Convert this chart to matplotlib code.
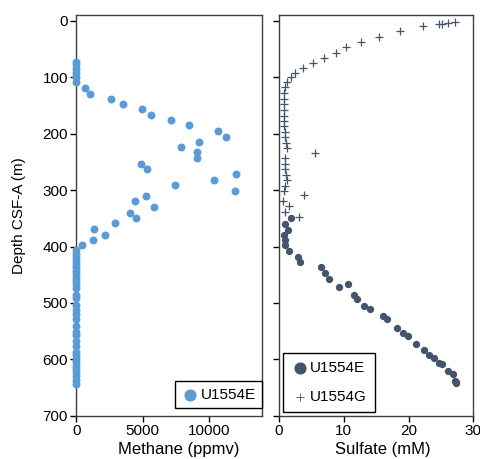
import matplotlib
matplotlib.use('Agg')
import matplotlib.pyplot as plt

plt.rcParams['font.family'] = ['Liberation Sans', 'DejaVu Sans']

# methane, U1554E
methane_depth = [72, 79, 86, 93, 100, 108, 119, 129, 139, 148, 157, 167, 176, 185, 195, 205,
                 215, 223, 233, 243, 253, 263, 272, 282, 291, 301, 311, 320, 330, 340, 350, 359,
                 369, 379, 389, 398,
                 407, 413, 419, 425, 431, 437, 443, 449, 455, 461, 467, 473, 486, 492, 503, 513,
                 519, 529, 541, 551, 557, 567, 577, 587, 593, 599, 605, 611, 617, 623, 629, 637, 643]
methane_ppmv = [0, 0, 0, 0, 0, 0, 660, 1060, 2650, 3550, 4940, 5620, 7150, 8460, 10680, 11280,
                9270, 7860, 9120, 9120, 4890, 5340, 12040, 10350, 7400, 11930, 5270, 4430, 5820, 4030, 4530, 2950,
                1360, 2140, 1240, 430,
                0, 0, 0, 0, 0, 0, 0, 0, 0, 0, 0, 0, 0, 0, 0, 0,
                0, 0, 0, 0, 0, 0, 0, 0, 0, 0, 0, 0, 0, 0, 0, 0, 0]

# sulfate, U1554E
sulfE_depth = [350, 360, 370, 379, 389, 398, 408, 418, 428, 437, 447, 457, 466, 471, 486, 493,
               505, 510, 524, 529, 544, 553, 559, 573, 584, 592, 597, 607, 608, 620, 626, 638, 642, 640]
sulfE_mM = [1.9, 0.9, 1.45, 0.85, 1.0, 0.9, 1.6, 3.0, 3.3, 6.5, 7.1, 7.75, 10.6, 9.3, 11.55, 12.05,
            13.1, 14.0, 16.0, 16.7, 18.15, 19.2, 19.9, 21.2, 22.4, 23.1, 23.9, 24.7, 25.1, 26.1, 26.8, 27.1, 27.3, 27.4]

# sulfate, U1554G
sulfG_depth = [1.7, 3.5, 4.7, 5.9, 8.8, 18, 28, 37, 46, 56, 65, 75, 84, 93, 100, 108,
               118, 128, 139, 148, 158, 168, 177, 187, 197, 206, 216, 225, 234, 243, 254, 263,
               274, 282, 292, 301, 309, 319, 328, 339, 348]
sulfG_mM = [27.2, 26.1, 25.1, 24.7, 22.2, 18.7, 15.4, 12.6, 10.3, 8.8, 7.0, 5.3, 3.65, 2.4, 1.8, 1.2,
            0.9, 0.8, 0.8, 0.8, 0.8, 0.8, 0.8, 0.8, 0.9, 1.0, 1.1, 1.2, 5.5, 0.9, 0.9, 1.0,
            1.15, 1.2, 0.9, 0.8, 3.8, 0.6, 1.5, 1.0, 3.1]

blue = '#5B9BD5'
slate = '#44546A'

fig = plt.figure(figsize=(4.81, 4.59), dpi=100)
ax1 = fig.add_axes([0.1586, 0.0943, 0.3867, 0.8724])
ax2 = fig.add_axes([0.5800, 0.0943, 0.4040, 0.8724])

ax1.scatter(methane_ppmv, methane_depth, s=22, color=blue, label='U1554E', zorder=3, clip_on=False)
ax1.set_xlim(0, 14000)
ax1.set_ylim(700, -10)
ax1.set_xticks([0, 5000, 10000])
ax1.set_yticks(range(0, 701, 100))
ax1.set_xlabel('Methane (ppmv)', fontsize=12)
ax1.xaxis.set_label_coords(0.552, -0.066)
ax1.set_ylabel('Depth CSF-A (m)', fontsize=11, labelpad=12)
leg1 = ax1.legend(loc='lower right', fontsize=11, handletextpad=0.1, handlelength=1.2,
                  borderpad=0.4, fancybox=False, edgecolor='black', framealpha=1,
                  bbox_to_anchor=(1.0, 0.02), borderaxespad=0.0)
leg1.legend_handles[0].set_sizes([60])

ax2.scatter(sulfE_mM, sulfE_depth, s=18, color=slate, label='U1554E', zorder=3)
ax2.scatter(sulfG_mM, sulfG_depth, s=40, marker='+', linewidths=0.9, color=slate, label='U1554G', zorder=3)
ax2.set_xlim(0, 30)
ax2.set_ylim(700, -10)
ax2.set_xticks([0, 10, 20, 30])
ax2.set_yticks(range(0, 701, 100))
ax2.set_yticklabels([])
ax2.set_xlabel('Sulfate (mM)', fontsize=12)
ax2.xaxis.set_label_coords(0.532, -0.066)
leg2 = ax2.legend(loc='lower left', fontsize=11, handletextpad=0.1, handlelength=1.2,
                  borderpad=0.5, labelspacing=1.0, fancybox=False, edgecolor='black', framealpha=1,
                  bbox_to_anchor=(0.02, 0.01), borderaxespad=0.0)
leg2.legend_handles[0].set_sizes([60])
leg2.legend_handles[1].set_sizes([30])
leg2.legend_handles[1].set_linewidths([0.6])

for ax in (ax1, ax2):
    ax.tick_params(axis='both', labelsize=11, length=4, width=1, direction='out', pad=2)
    for sp in ax.spines.values():
        sp.set_color('#404040')
        sp.set_linewidth(1)

fig.savefig('out.png', dpi=100)
